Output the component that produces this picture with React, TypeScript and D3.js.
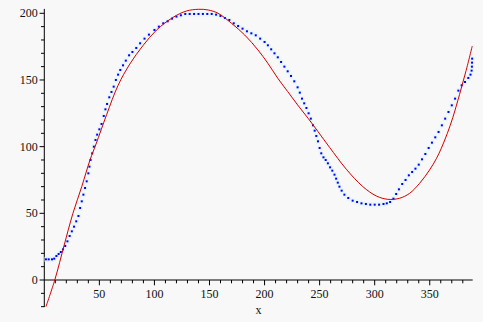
import React from "react";
import * as d3 from "d3";

const blueX = [
  1.5, 4, 7, 9, 11, 13, 15, 17, 19, 21, 23, 25, 27, 29, 31, 32.5, 34, 35.5, 37, 38.5,
  40, 41, 42, 43.5, 45, 46.5, 48, 50, 52, 54, 55.5, 57, 59, 61, 63, 65, 67, 69, 71.5, 74,
  77, 80, 83.5, 87, 91, 95, 100, 104, 108, 112, 116, 120, 124, 128, 132, 136, 140, 144, 148, 152,
  156, 160, 164, 168, 172, 176, 180, 184, 188, 192, 196, 200, 203, 206, 209, 212, 215, 218, 221, 224,
  227, 230, 232, 234, 236, 238, 240, 242, 244, 245.5, 247, 248.5, 250, 251.5, 253.5, 255.5, 257.5, 259.5, 261.5, 263.5,
  265, 266.5, 268, 270, 272.5, 276, 280, 284, 288, 292, 296, 300, 304, 308, 311, 314, 317, 319.5, 322, 325,
  328, 331, 334, 337, 340, 343, 346, 349, 352, 355, 358, 361, 364, 367, 370, 373, 376, 379, 382, 385,
  387, 388, 388.3, 388.4, 388.5,
];
const blueY = [
  15.5, 15.5, 15.5, 16, 18, 19.5, 21, 23, 25.5, 29, 33, 36.5, 40, 44, 48, 54, 59, 64, 69, 74,
  80, 85, 90, 95, 100, 105, 109, 113, 117, 123, 128, 132, 137, 141, 145, 150, 154, 157.5, 161, 164.5,
  168.5, 171, 174, 177.5, 181, 184, 187.5, 190, 192.5, 194, 196, 197.5, 198.5, 199.5, 199.5, 199.5, 199.5, 199.5, 199.5, 199.5,
  199, 198, 196.5, 195, 192.5, 190.5, 188.5, 186.5, 185, 183.5, 181, 178.5, 176, 173, 170, 167, 163.5, 160, 156.5, 153,
  149, 144.5, 140.5, 136, 132.5, 129, 125, 121, 116, 112, 108, 104, 99, 95, 92, 90, 87.5, 84.5, 82, 79,
  76, 73, 70, 67, 64, 61.5, 59.5, 58.5, 57.5, 57, 56.5, 56.5, 56.5, 57, 57.5, 58.5, 61, 64.5, 68, 72,
  75, 78.5, 81, 83.5, 86.5, 90.5, 94.5, 99, 103, 107, 111, 116, 121, 126, 131, 136, 142, 146, 148.5, 151.5,
  154, 157, 160, 163, 166,
];

// fitted curve (red)
const fitX = [
  1.5, 9.7, 18, 26, 34, 41.5, 47, 56.6, 67, 77.7, 89.8, 102, 117, 129, 139.7, 148.8, 157.8, 170, 182, 194,
  203, 212, 221, 230, 239.5, 248.5, 259, 274.3, 289.3, 301.5, 312, 322.6, 331.7, 340.8, 349.8, 356, 360.5, 366, 371, 377,
  383, 388.6,
];
const fitY = [
  -20, 0.5, 26, 50, 70, 90, 102, 124, 146, 162, 176, 187.5, 197, 201.7, 203, 202.5, 200, 192.5, 183.7, 172.5,
  162.5, 151.3, 141.3, 131.3, 121.3, 111.3, 99.5, 83, 70, 63, 60.5, 61.3, 65, 72.5, 82.5, 91, 98.8, 110, 122, 139,
  157, 175.5,
];

const xMajor = [50, 100, 150, 200, 250, 300, 350];
const yMajor = [0, 50, 100, 150, 200];

const W = 483;
const H = 322;

export default function App() {
  const x = d3.scaleLinear().domain([0, 389]).range([44.3, 472.7]);
  const y = d3.scaleLinear().domain([0, 200]).range([280, 13.3]);

  const xMinor = d3.range(10, 390, 10).filter((v) => v % 50 !== 0);
  const yMinor = d3.range(-20, 205, 10).filter((v) => v % 50 !== 0);

  const fitData = fitX.map((v, i) => [v, fitY[i]] as [number, number]);
  const line = d3
    .line<[number, number]>()
    .x((d) => x(d[0]))
    .y((d) => y(d[1]))
    .curve(d3.curveCatmullRom.alpha(0.5));

  const x0 = x(0);
  const y0 = y(0);
  const font = "'Liberation Serif', 'Times New Roman', serif";

  return (
    <div style={{ position: "absolute", left: 0, top: 0 }}>
      <svg width={W} height={H} style={{ display: "block" }}>
        <rect width={W} height={H} fill="#f8f8f8" />
        {/* axes */}
        <line x1={x0} x2={x0} y1={y(-20.3)} y2={y(203.3)} stroke="#000" />
        <line x1={x0} x2={x(389)} y1={y0} y2={y0} stroke="#000" />
        {xMinor.map((v) => (
          <line key={"xm" + v} x1={x(v)} x2={x(v)} y1={y0} y2={y0 + 3.3} stroke="#000" />
        ))}
        {xMajor.map((v) => (
          <g key={"xM" + v}>
            <line x1={x(v)} x2={x(v)} y1={y0} y2={y0 + 5.3} stroke="#000" />
            <text x={x(v)} y={y0 + 17.5} textAnchor="middle" fontFamily={font} fontSize={12} fill="#111">
              {v}
            </text>
          </g>
        ))}
        {yMinor.map((v) => (
          <line key={"ym" + v} x1={x0 - 3.3} x2={x0} y1={y(v)} y2={y(v)} stroke="#000" />
        ))}
        {yMajor.map((v) => (
          <g key={"yM" + v}>
            <line x1={x0 - 4.7} x2={x0} y1={y(v)} y2={y(v)} stroke="#000" />
            <text x={x0 - 6.5} y={y(v) + 4} textAnchor="end" fontFamily={font} fontSize={12} fill="#111">
              {v}
            </text>
          </g>
        ))}
        <text x={(x(0) + x(389)) / 2} y={314} textAnchor="middle" fontFamily={font} fontSize={12} fill="#111">
          x
        </text>
        {/* points */}
        {blueX.map((v, i) => (
          <rect
            key={"h" + i}
            x={x(v) - 2}
            y={y(blueY[i]) - 2.5}
            width={4}
            height={5}
            fill="#d4f6fc"
            opacity={0.5}
          />
        ))}
        {blueX.map((v, i) => (
          <rect key={"p" + i} x={x(v) - 1} y={y(blueY[i]) - 1} width={2} height={2} fill="#0000ff" />
        ))}
        {/* fit */}
        <path d={line(fitData) ?? ""} fill="none" stroke="#d00000" strokeWidth={1} />
      </svg>
    </div>
  );
}
